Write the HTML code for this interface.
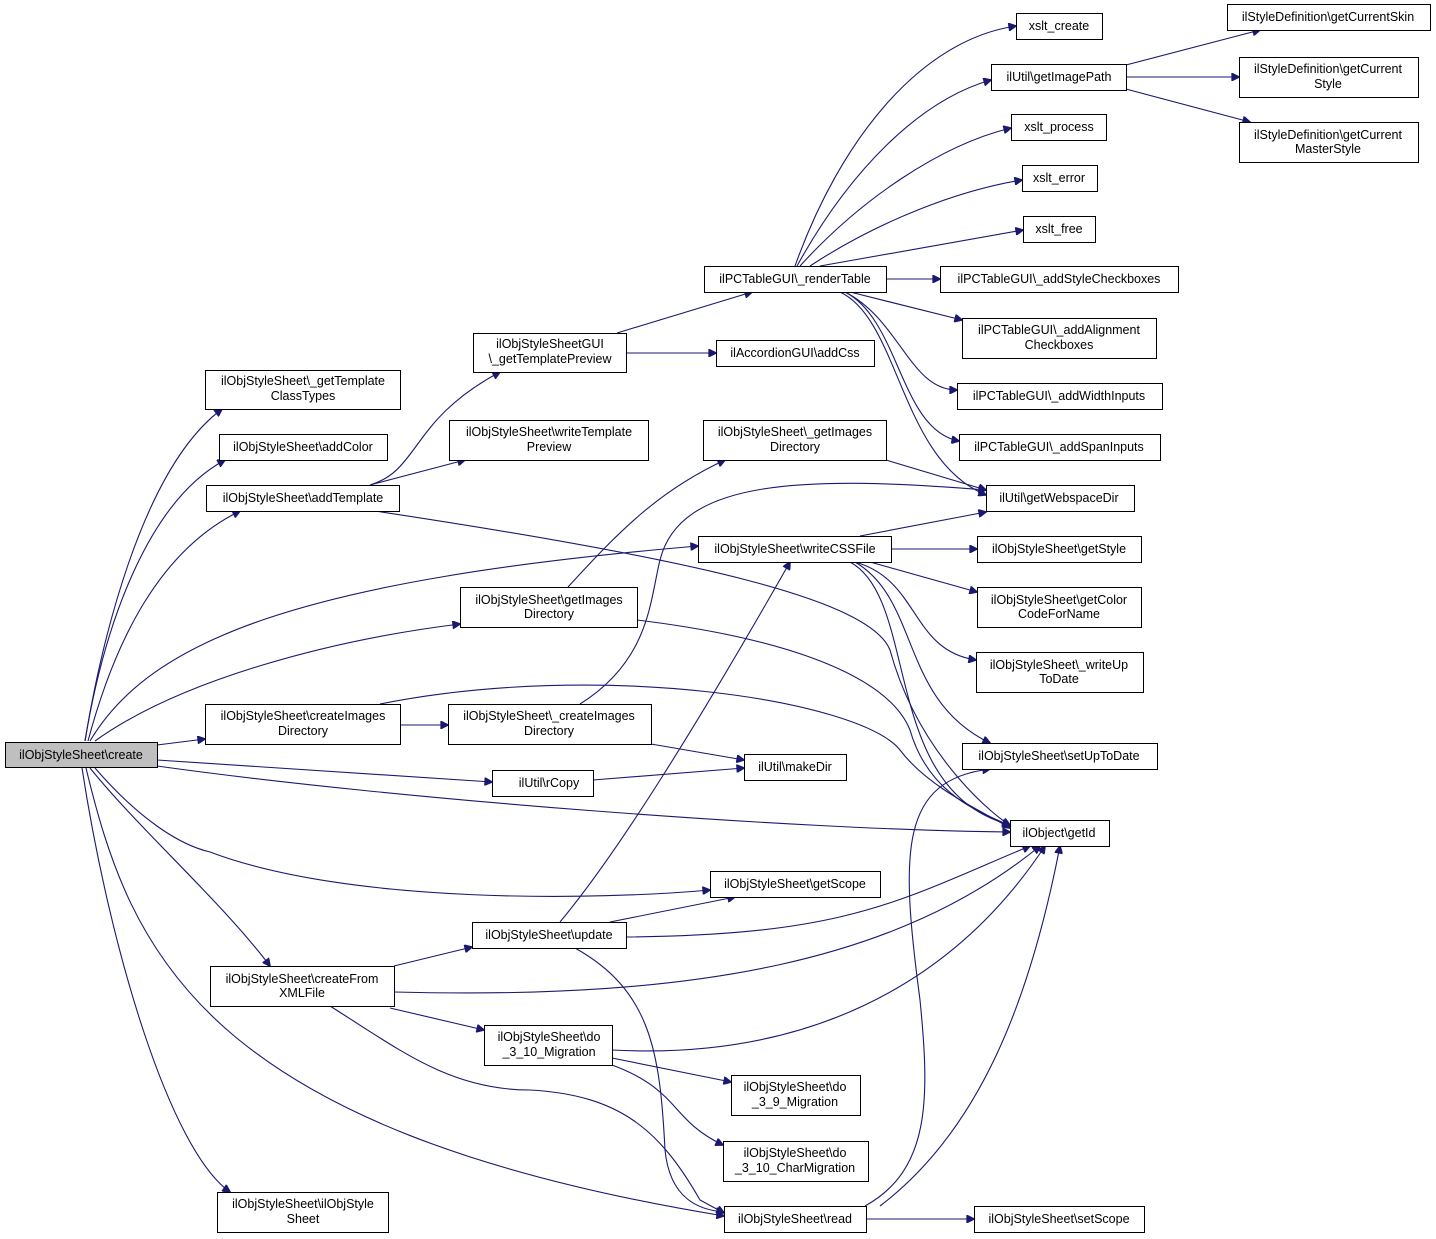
<!DOCTYPE html>
<html><head><meta charset="utf-8"><style>
html,body{margin:0;padding:0;background:#fff;}
svg{display:block;}
text{font-family:"Liberation Sans",Arial,sans-serif;font-size:12.5px;fill:#000;text-anchor:middle;}
rect{fill:#fff;stroke:#000;stroke-width:1;}
path{fill:none;stroke:#191970;stroke-width:1.1;}
</style></head><body>
<svg width="1436" height="1239" viewBox="0 0 1436 1239" xmlns="http://www.w3.org/2000/svg">
<defs><marker id="a" viewBox="0 0 10 10" refX="9" refY="5" markerWidth="10" markerHeight="8" markerUnits="userSpaceOnUse" orient="auto"><path d="M0,0 L10,5 L0,10 z" style="fill:#191970;stroke:#191970"/></marker></defs>
<g marker-end="url(#a)">
<path d="M85,741 C100,650 140,470 222,409"/>
<path d="M85,741 C105,620 150,500 225,460"/>
<path d="M88,741 C115,640 160,550 240,511"/>
<path d="M90,741 C150,640 300,580 698,546"/>
<path d="M95,741 C180,680 330,640 460,624"/>
<path d="M157,745 L205,739"/>
<path d="M157,760 L492,782"/>
<path d="M157,766 C400,800 800,830 1010,832"/>
<path d="M95,768 C140,820 180,845 210,852 C350,905 600,900 710,890"/>
<path d="M90,768 C140,830 220,900 270,966"/>
<path d="M86,768 C130,950 200,1130 724,1216"/>
<path d="M82,768 C110,950 170,1150 230,1192"/>
<path d="M370,485 C420,470 410,420 500,372"/>
<path d="M370,485 L465,460"/>
<path d="M375,511 C700,560 870,600 890,650 C920,760 1000,820 1010,825"/>
<path d="M617,333 L752,292"/>
<path d="M626,353 L716,353"/>
<path d="M795,266 C840,140 920,40 1016,26"/>
<path d="M797,266 C850,170 920,100 991,80"/>
<path d="M800,266 C860,200 940,145 1011,128"/>
<path d="M810,266 C880,220 960,190 1022,180"/>
<path d="M820,266 L1023,230"/>
<path d="M886,279 L940,279"/>
<path d="M850,292 L962,320"/>
<path d="M845,292 C900,320 910,390 957,390"/>
<path d="M845,292 C900,320 900,430 959,441"/>
<path d="M840,292 C900,320 900,460 986,495"/>
<path d="M1126,65 L1260,30"/>
<path d="M1126,77 L1239,77"/>
<path d="M1126,89 L1250,122"/>
<path d="M886,460 L986,490"/>
<path d="M860,536 L986,512"/>
<path d="M891,549 L977,549"/>
<path d="M870,562 L977,592"/>
<path d="M855,562 C920,580 910,650 976,660"/>
<path d="M855,562 C920,600 900,700 990,743"/>
<path d="M850,562 C920,600 880,790 1010,825"/>
<path d="M568,587 C620,530 660,490 725,460"/>
<path d="M637,620 C800,640 890,680 910,730 C930,800 990,815 1010,826"/>
<path d="M400,725 L448,725"/>
<path d="M380,704 C600,660 860,700 900,750 C930,790 990,815 1010,828"/>
<path d="M580,704 C650,660 650,600 660,560 C680,480 800,475 986,490"/>
<path d="M651,744 L744,760"/>
<path d="M593,780 L744,768"/>
<path d="M560,922 C620,850 700,720 790,562"/>
<path d="M610,922 L735,897"/>
<path d="M626,937 C850,935 900,900 1030,846"/>
<path d="M575,948 C650,990 660,1050 665,1150 C670,1200 700,1210 724,1212"/>
<path d="M394,966 L472,947"/>
<path d="M394,992 C700,1000 900,960 1040,846"/>
<path d="M390,1008 L484,1030"/>
<path d="M330,1006 C400,1050 450,1090 530,1090 C620,1095 660,1130 700,1200 L724,1213"/>
<path d="M612,1050 C800,1060 950,990 1045,846"/>
<path d="M612,1058 L731,1082"/>
<path d="M612,1065 C680,1090 670,1120 723,1145"/>
<path d="M865,1206 C930,1170 930,1100 920,1000 C900,850 900,780 990,769"/>
<path d="M880,1206 C980,1130 1030,1000 1060,846"/>
<path d="M866,1219 L974,1219"/>
</g>
<rect x="5.5" y="742.5" width="152" height="25" style="fill:#bfbfbf"/><text x="81" y="759">ilObjStyleSheet\create</text>
<rect x="205.5" y="370.5" width="195" height="39"/><text x="303" y="385">ilObjStyleSheet\_getTemplate</text><text x="303" y="400">ClassTypes</text>
<rect x="219.5" y="434.5" width="168" height="26"/><text x="303" y="451">ilObjStyleSheet\addColor</text>
<rect x="206.5" y="485.5" width="193" height="26"/><text x="303" y="502">ilObjStyleSheet\addTemplate</text>
<rect x="473.5" y="333.5" width="153" height="39"/><text x="550" y="348">ilObjStyleSheetGUI</text><text x="550" y="363">\_getTemplatePreview</text>
<rect x="449.5" y="420.5" width="199" height="40"/><text x="549" y="436">ilObjStyleSheet\writeTemplate</text><text x="549" y="451">Preview</text>
<rect x="704.5" y="266.5" width="182" height="26"/><text x="795" y="283">ilPCTableGUI\_renderTable</text>
<rect x="716.5" y="340.5" width="158" height="26"/><text x="795" y="357">ilAccordionGUI\addCss</text>
<rect x="703.5" y="420.5" width="183" height="40"/><text x="795" y="436">ilObjStyleSheet\_getImages</text><text x="795" y="451">Directory</text>
<rect x="1016.5" y="13.5" width="86" height="26"/><text x="1059" y="30">xslt_create</text>
<rect x="991.5" y="64.5" width="135" height="26"/><text x="1059" y="81">ilUtil\getImagePath</text>
<rect x="1011.5" y="114.5" width="95" height="26"/><text x="1059" y="131">xslt_process</text>
<rect x="1022.5" y="165.5" width="75" height="26"/><text x="1059" y="182">xslt_error</text>
<rect x="1023.5" y="216.5" width="72" height="26"/><text x="1059" y="233">xslt_free</text>
<rect x="940.5" y="266.5" width="238" height="26"/><text x="1059" y="283">ilPCTableGUI\_addStyleCheckboxes</text>
<rect x="962.5" y="318.5" width="194" height="40"/><text x="1059" y="334">ilPCTableGUI\_addAlignment</text><text x="1059" y="349">Checkboxes</text>
<rect x="957.5" y="383.5" width="205" height="26"/><text x="1059" y="400">ilPCTableGUI\_addWidthInputs</text>
<rect x="959.5" y="434.5" width="201" height="26"/><text x="1059" y="451">ilPCTableGUI\_addSpanInputs</text>
<rect x="986.5" y="485.5" width="148" height="26"/><text x="1059" y="502">ilUtil\getWebspaceDir</text>
<rect x="1227.5" y="4.5" width="203" height="26"/><text x="1328" y="21">ilStyleDefinition\getCurrentSkin</text>
<rect x="1239.5" y="57.5" width="179" height="40"/><text x="1328" y="73">ilStyleDefinition\getCurrent</text><text x="1328" y="88">Style</text>
<rect x="1239.5" y="122.5" width="179" height="40"/><text x="1328" y="139">ilStyleDefinition\getCurrent</text><text x="1328" y="153">MasterStyle</text>
<rect x="698.5" y="536.5" width="193" height="26"/><text x="795" y="553">ilObjStyleSheet\writeCSSFile</text>
<rect x="977.5" y="536.5" width="164" height="26"/><text x="1059" y="553">ilObjStyleSheet\getStyle</text>
<rect x="977.5" y="587.5" width="164" height="40"/><text x="1059" y="604">ilObjStyleSheet\getColor</text><text x="1059" y="618">CodeForName</text>
<rect x="976.5" y="652.5" width="167" height="40"/><text x="1059" y="669">ilObjStyleSheet\_writeUp</text><text x="1059" y="683">ToDate</text>
<rect x="962.5" y="743.5" width="195" height="26"/><text x="1059" y="760">ilObjStyleSheet\setUpToDate</text>
<rect x="1010.5" y="820.5" width="99" height="26"/><text x="1059" y="837">ilObject\getId</text>
<rect x="460.5" y="587.5" width="177" height="40"/><text x="549" y="604">ilObjStyleSheet\getImages</text><text x="549" y="618">Directory</text>
<rect x="205.5" y="704.5" width="195" height="40"/><text x="303" y="720">ilObjStyleSheet\createImages</text><text x="303" y="735">Directory</text>
<rect x="448.5" y="704.5" width="203" height="40"/><text x="549" y="720">ilObjStyleSheet\_createImages</text><text x="549" y="735">Directory</text>
<rect x="492.5" y="770.5" width="101" height="26"/><text x="549" y="787">ilUtil\rCopy</text>
<rect x="744.5" y="754.5" width="102" height="26"/><text x="795" y="771">ilUtil\makeDir</text>
<rect x="710.5" y="871.5" width="170" height="26"/><text x="795" y="888">ilObjStyleSheet\getScope</text>
<rect x="472.5" y="922.5" width="154" height="26"/><text x="549" y="939">ilObjStyleSheet\update</text>
<rect x="210.5" y="966.5" width="184" height="40"/><text x="302" y="983">ilObjStyleSheet\createFrom</text><text x="302" y="997">XMLFile</text>
<rect x="484.5" y="1025.5" width="128" height="40"/><text x="549" y="1041">ilObjStyleSheet\do</text><text x="549" y="1056">_3_10_Migration</text>
<rect x="731.5" y="1075.5" width="129" height="40"/><text x="795" y="1091">ilObjStyleSheet\do</text><text x="795" y="1106">_3_9_Migration</text>
<rect x="723.5" y="1141.5" width="145" height="40"/><text x="795" y="1157">ilObjStyleSheet\do</text><text x="795" y="1172">_3_10_CharMigration</text>
<rect x="724.5" y="1206.5" width="142" height="26"/><text x="795" y="1223">ilObjStyleSheet\read</text>
<rect x="974.5" y="1206.5" width="170" height="26"/><text x="1059" y="1223">ilObjStyleSheet\setScope</text>
<rect x="217.5" y="1192.5" width="171" height="40"/><text x="303" y="1208">ilObjStyleSheet\ilObjStyle</text><text x="303" y="1223">Sheet</text>
</svg>
</body></html>
